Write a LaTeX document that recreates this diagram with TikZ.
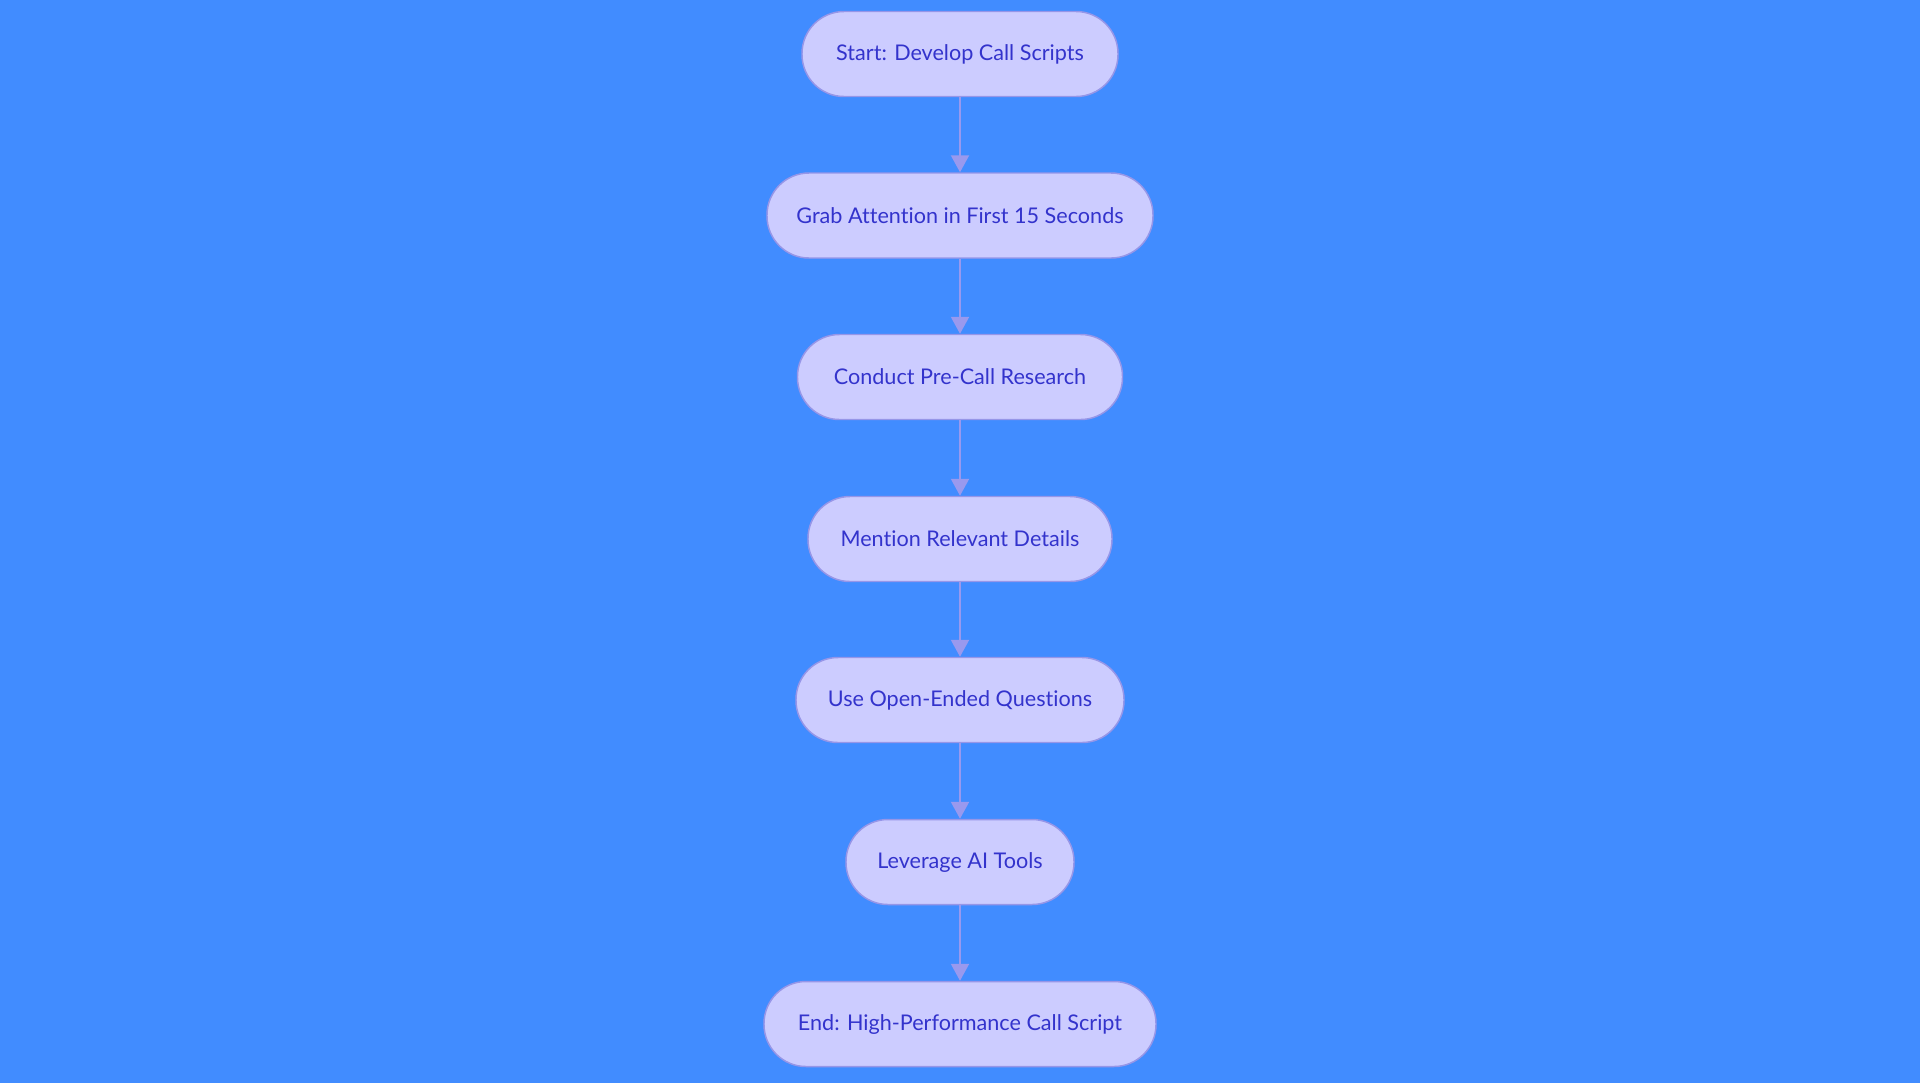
\documentclass[tikz,border=0pt]{standalone}
\usepackage{fontspec}
\setmainfont{Lato}[Ligatures=NoCommon]
\usetikzlibrary{arrows.meta}
\definecolor{bgblue}{RGB}{65,140,255}
\definecolor{boxfill}{RGB}{204,204,255}
\definecolor{boxline}{RGB}{150,150,232}
\definecolor{boxtext}{RGB}{51,51,204}
\definecolor{arrowcol}{RGB}{153,153,238}
\tikzset{
  stepnode/.style={draw=boxline,fill=boxfill,line width=1.1pt,rounded corners=31.5pt,
    minimum height=63.75pt,inner xsep=0pt,text=boxtext,font=\fontsize{16.2}{19}\selectfont},
  flowarrow/.style={draw=arrowcol,line width=1.6pt,-{Triangle[width=13.5pt,length=12.75pt]}}
}
\begin{document}
\begin{tikzpicture}[x=0.75pt,y=-0.75pt]
  \useasboundingbox[fill=bgblue] (0,0) rectangle (1920,1083);
  \node[stepnode,minimum width=237pt] (start) at (960,54) {Start: Develop Call Scripts};
  \node[stepnode,minimum width=289.5pt] (grab) at (960,215.5) {Grab Attention in First 15 Seconds};
  \node[stepnode,minimum width=243.75pt] (research) at (960,377) {Conduct Pre-Call Research};
  \node[stepnode,minimum width=228pt] (details) at (960,539) {Mention Relevant Details};
  \node[stepnode,minimum width=246pt] (questions) at (960,700) {Use Open-Ended Questions};
  \node[stepnode,minimum width=171pt] (aitools) at (960,862) {Leverage AI Tools};
  \node[stepnode,minimum width=294pt] (end) at (960,1024) {End: High-Performance Call Script};
  \draw[flowarrow] (start) -- (grab);
  \draw[flowarrow] (grab) -- (research);
  \draw[flowarrow] (research) -- (details);
  \draw[flowarrow] (details) -- (questions);
  \draw[flowarrow] (questions) -- (aitools);
  \draw[flowarrow] (aitools) -- (end);
\end{tikzpicture}
\end{document}
